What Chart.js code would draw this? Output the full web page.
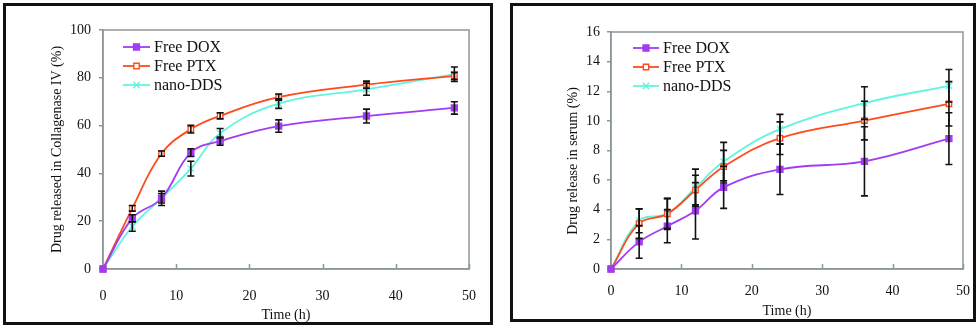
<!DOCTYPE html>
<html>
<head>
<meta charset="utf-8">
<script src="https://cdn.jsdelivr.net/npm/chart.js@4/dist/chart.umd.min.js"></script>
<style>
  html, body { margin: 0; padding: 0; background: #fff; }
  #wrap { position: relative; width: 980px; height: 329px; overflow: hidden; }
  .cv { position: absolute; top: 0; }
  .frame { position: absolute; border: 3px solid #111; box-sizing: border-box; pointer-events: none; }
</style>
</head>
<body>
<div id="wrap">
  <div class="cv" style="left:0;width:500px;height:329px;"><canvas id="c1" width="500" height="329"></canvas></div>
  <div class="cv" style="left:500px;width:480px;height:329px;"><canvas id="c2" width="480" height="329"></canvas></div>
  <div class="frame" style="left:3px;top:3px;width:490px;height:322px;"></div>
  <div class="frame" style="left:510px;top:3px;width:466px;height:319px;"></div>
</div>
<script>
// ---- data ----
const timeH = [0, 4, 8, 12, 16, 24, 36, 48];
const seriesNames = ['Free DOX', 'Free PTX', 'nano-DDS'];

// Left: release in Collagenase IV (%)
const collDOX     = [0, 21.2, 29.6, 48.7, 53.5, 59.8, 64.0, 67.4];
const collDOXErr  = [0, 1.5, 2.0, 1.6, 1.7, 2.6, 2.9, 2.6];
const collPTX     = [0, 25.4, 48.3, 58.5, 64.1, 71.9, 77.1, 80.8];
const collPTXErr  = [0, 1.2, 1.1, 1.6, 1.3, 1.3, 1.5, 1.5];
const collNano    = [0, 17.8, 29.6, 42.0, 56.8, 69.2, 75.2, 81.5];
const collNanoErr = [0, 2.0, 3.0, 3.1, 2.0, 2.0, 2.5, 3.0];
const collYTicks  = [0, 20, 40, 60, 80, 100];

// Right: release in serum (%)
const serumDOX     = [0, 1.83, 2.89, 3.93, 5.51, 6.73, 7.27, 8.80];
const serumDOXErr  = [0, 1.1, 1.12, 1.9, 1.42, 1.7, 2.33, 1.75];
const serumPTX     = [0, 3.07, 3.72, 5.33, 6.91, 8.83, 10.02, 11.15];
const serumPTXErr  = [0, 1.0, 1.05, 1.0, 1.1, 1.1, 1.3, 1.5];
const serumNano    = [0, 3.25, 3.75, 5.49, 7.25, 9.44, 11.2, 12.37];
const serumNanoErr = [0, 0.8, 1.0, 1.25, 1.3, 1.0, 1.1, 1.1];
const serumYTicks  = [0, 2, 4, 6, 8, 10, 12, 14, 16];

const xTicks = [0, 10, 20, 30, 40, 50];

// ---- styles ----
const FONT = "'Liberation Serif', 'Times New Roman', serif";
const AXIS = '#8d969a';
const styles = [
  { color: '#a23cf2', pointStyle: 'rect', fill: '#a23cf2', radius: 4.2 },
  { color: '#ff4a1c', pointStyle: 'rect', fill: '#ffffff', radius: 3.8 },
  { color: '#62f4de', pointStyle: 'crossRot', fill: '#62f4de', radius: 4.5 }
];

function pts(vals) { return timeH.map((t, i) => ({ x: t, y: vals[i] })); }

function makeDatasets(seriesList, errList) {
  return seriesList.map((vals, i) => ({
    label: seriesNames[i],
    data: pts(vals),
    errors: errList[i],
    borderColor: styles[i].color,
    backgroundColor: styles[i].fill,
    pointBorderColor: styles[i].color,
    pointBackgroundColor: styles[i].fill,
    pointStyle: styles[i].pointStyle,
    pointRadius: styles[i].radius,
    pointBorderWidth: 1.4,
    borderWidth: 1.8,
    tension: 0.4,
    clip: false
  }));
}

const errorBarPlugin = {
  id: 'errorBars',
  afterDatasetsDraw(chart) {
    const ctx = chart.ctx;
    const xs = chart.scales.x, ys = chart.scales.y;
    ctx.save();
    ctx.strokeStyle = '#111';
    ctx.lineWidth = 1.6;
    chart.data.datasets.forEach((ds) => {
      ds.data.forEach((p, i) => {
        const e = ds.errors[i];
        if (!e) return;
        const x = xs.getPixelForValue(p.x);
        const y1 = ys.getPixelForValue(p.y + e);
        const y2 = ys.getPixelForValue(p.y - e);
        ctx.beginPath();
        ctx.moveTo(x, y1); ctx.lineTo(x, y2);
        ctx.moveTo(x - 3.5, y1); ctx.lineTo(x + 3.5, y1);
        ctx.moveTo(x - 3.5, y2); ctx.lineTo(x + 3.5, y2);
        ctx.stroke();
      });
    });
    ctx.restore();
  }
};

const framePlugin = {
  id: 'plotFrame',
  beforeDatasetsDraw(chart) {
    const { ctx, chartArea: a } = chart;
    const xs = chart.scales.x;
    ctx.save();
    ctx.strokeStyle = AXIS;
    ctx.lineWidth = 1.5;
    ctx.strokeRect(a.left, a.top, a.right - a.left, a.bottom - a.top);
    ctx.beginPath();
    xTicks.forEach(t => {
      const x = Math.round(xs.getPixelForValue(t)) + 0.5;
      ctx.moveTo(x, a.bottom); ctx.lineTo(x, a.bottom - 5);
    });
    ctx.stroke();
    ctx.restore();
  }
};

const legendPlugin = {
  id: 'sideLegend',
  afterDraw(chart, args, opts) {
    const { ctx, chartArea: a } = chart;
    ctx.save();
    ctx.font = '16px ' + FONT;
    ctx.textBaseline = 'middle';
    ctx.textAlign = 'left';
    chart.data.datasets.forEach((ds, i) => {
      const y = a.top + opts.dy + i * opts.rowH;
      const x1 = a.left + opts.dx, x2 = x1 + opts.lineW;
      ctx.strokeStyle = ds.borderColor;
      ctx.lineWidth = 1.8;
      ctx.beginPath(); ctx.moveTo(x1, y); ctx.lineTo(x2, y); ctx.stroke();
      ctx.fillStyle = ds.pointBackgroundColor;
      ctx.strokeStyle = ds.pointBorderColor;
      ctx.lineWidth = 1.4;
      Chart.helpers.drawPoint(ctx, { pointStyle: ds.pointStyle, radius: ds.pointRadius, rotation: 0, borderWidth: 1.4 }, (x1 + x2) / 2, y);
      ctx.fillStyle = '#111';
      ctx.fillText(ds.label, x2 + 4, y + 1);
    });
    ctx.restore();
  }
};

function makeChart(id, cfg) {
  return new Chart(document.getElementById(id), {
    type: 'line',
    data: { datasets: makeDatasets(cfg.series, cfg.errs) },
    plugins: [framePlugin, errorBarPlugin, legendPlugin],
    options: {
      responsive: false,
      animation: false,
      layout: { padding: { top: cfg.top, right: cfg.right, bottom: 0, left: 0 } },
      plugins: {
        legend: { display: false },
        tooltip: { enabled: false },
        sideLegend: cfg.legend
      },
      scales: {
        x: {
          type: 'linear', min: 0, max: 50,
          afterFit(s) { s.height = 60; },
          afterBuildTicks(s) { s.ticks = xTicks.map(v => ({ value: v })); },
          grid: { display: false },
          border: { display: true, color: AXIS, width: 1.5 },
          ticks: { padding: cfg.xPad, color: '#111', font: { family: FONT, size: 14 } },
          title: { display: true, text: 'Time (h)', color: '#111', font: { family: FONT, size: 14 }, padding: { top: 0, bottom: cfg.xTitlePad } }
        },
        y: {
          type: 'linear', min: cfg.yTicks[0], max: cfg.yTicks[cfg.yTicks.length - 1],
          afterFit(s) { s.width = cfg.yWidth; },
          afterBuildTicks(s) { s.ticks = cfg.yTicks.map(v => ({ value: v })); },
          grid: { drawOnChartArea: false, drawTicks: true, tickLength: 4, color: AXIS, lineWidth: 1.5 },
          border: { display: true, color: AXIS, width: 1.5 },
          ticks: { padding: cfg.yPad, color: '#111', font: { family: FONT, size: 14 } },
          title: { display: true, text: cfg.yTitle, color: '#111', font: { family: FONT, size: 14 }, padding: { top: cfg.yTitlePad, bottom: 0 } }
        }
      }
    }
  });
}

makeChart('c1', {
  series: [collDOX, collPTX, collNano],
  errs: [collDOXErr, collPTXErr, collNanoErr],
  yTicks: collYTicks,
  yTitle: 'Drug released in Collagenase IV (%)',
  top: 30, right: 31, yWidth: 103, yPad: 8, xPad: 11, xTitlePad: 5.6, yTitlePad: 48.6,
  legend: { dx: 20, dy: 17, rowH: 19, lineW: 27 }
});

makeChart('c2', {
  series: [serumDOX, serumPTX, serumNano],
  errs: [serumDOXErr, serumPTXErr, serumNanoErr],
  yTicks: serumYTicks,
  yTitle: 'Drug release in serum (%)      ',
  top: 32, right: 17, yWidth: 111, yPad: 7, xPad: 6, xTitlePad: 9.6, yTitlePad: 64.6,
  legend: { dx: 22, dy: 16, rowH: 19, lineW: 26 }
});
</script>
</body>
</html>
